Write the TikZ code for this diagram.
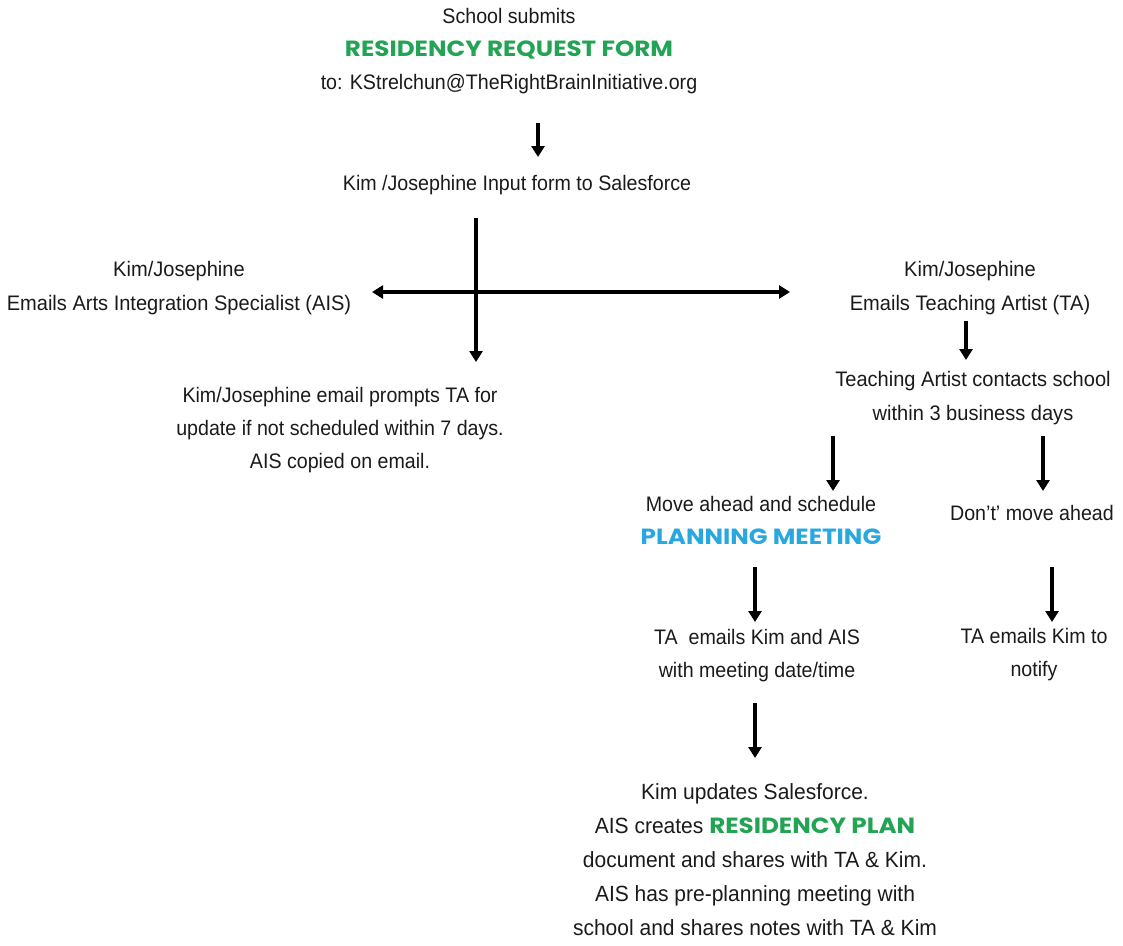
\documentclass[tikz,border=0pt]{standalone}
\usepackage{fontspec}
\setmainfont{Liberation Sans}[FakeStretch=0.935]
\newfontfamily\fwide{Liberation Sans}[FakeStretch=0.955]
\newfontfamily\heading{Poppins}[FakeStretch=1.12]
\usetikzlibrary{arrows.meta}
\definecolor{hgreen}{HTML}{23A455}
\definecolor{hblue}{HTML}{29A8E0}
\definecolor{ink}{HTML}{1A1A1A}
\tikzset{
  txt/.style={align=center, inner sep=0pt, text=ink, font=\fontsize{21}{33}\selectfont},
  txtb/.style={align=center, inner sep=0pt, text=ink, font=\fwide\fontsize{21}{34}\selectfont},
  txtc/.style={align=center, inner sep=0pt, text=ink, font=\fwide\fontsize{22}{34}\selectfont},
  arr/.style={line width=3.4pt, -{Triangle[length=11pt,width=13pt]}},
  darr/.style={line width=3.4pt, {Triangle[length=11pt,width=13pt]}-{Triangle[length=11pt,width=13pt]}},
}
\newcommand{\hgreen}[1]{{\heading\bfseries\fontsize{22}{33}\selectfont\color{hgreen}#1}}
\newcommand{\hblue}[1]{{\heading\bfseries\fontsize{22}{33}\selectfont\color{hblue}#1}}
\begin{document}
\begin{tikzpicture}[x=1pt,y=-1pt]
\useasboundingbox (0,0) rectangle (1123,945);
\node[txt] (top) at (509,51) {School submits\\ \hgreen{RESIDENCY REQUEST FORM}\\ to: KStrelchun@TheRightBrainInitiative.org};
\node[txt] (input) at (517,185) {Kim /Josephine Input form to Salesforce};
\node[txtb] (ais) at (179,288) {Kim/Josephine\\ Emails Arts Integration Specialist (AIS)};
\node[txtb] (ta) at (970,288) {Kim/Josephine\\ Emails Teaching Artist (TA)};
\node[txtb] (contact) at (973,398) {Teaching Artist contacts school\\ within 3 business days};
\node[txt] (prompt) at (340,430) {Kim/Josephine email prompts TA for\\ update if not scheduled within 7 days.\\ AIS copied on email.};
\node[txt] (move) at (761,520) {Move ahead and schedule\\ \hblue{PLANNING MEETING}};
\node[txt] (dont) at (1032,513) {Don't' move ahead};
\node[txt] (tam) at (757,656) {TA\ \ emails Kim and AIS\\ with meeting date/time};
\node[txt] (notify) at (1034,655) {TA emails Kim to\\ notify};
\node[txtc] (plan) at (755,860) {Kim updates Salesforce.\\ AIS creates \hgreen{RESIDENCY PLAN}\\ document and shares with TA \& Kim.\\ AIS has pre-planning meeting with\\ school and shares notes with TA \& Kim};
% arrow end points
\coordinate (a1s) at (538,123); \coordinate (a1e) at (538,157);
\coordinate (vs) at (476,218); \coordinate (ve) at (476,362);
\coordinate (hl) at (372,292); \coordinate (hr) at (790,292);
\coordinate (a3s) at (966,321); \coordinate (a3e) at (966,360);
\coordinate (a4s) at (833,436); \coordinate (a4e) at (833,491);
\coordinate (a5s) at (1043,436); \coordinate (a5e) at (1043,491);
\coordinate (a6s) at (755,567); \coordinate (a6e) at (755,622);
\coordinate (a7s) at (1052,567); \coordinate (a7e) at (1052,622);
\coordinate (a8s) at (755,703); \coordinate (a8e) at (755,758);
\draw[arr] (a1s) -- (a1e);
\draw[arr] (vs) -- (ve);
\draw[darr] (hl) -- (hr);
\draw[arr] (a3s) -- (a3e);
\draw[arr] (a4s) -- (a4e);
\draw[arr] (a5s) -- (a5e);
\draw[arr] (a6s) -- (a6e);
\draw[arr] (a7s) -- (a7e);
\draw[arr] (a8s) -- (a8e);
\end{tikzpicture}
\end{document}
